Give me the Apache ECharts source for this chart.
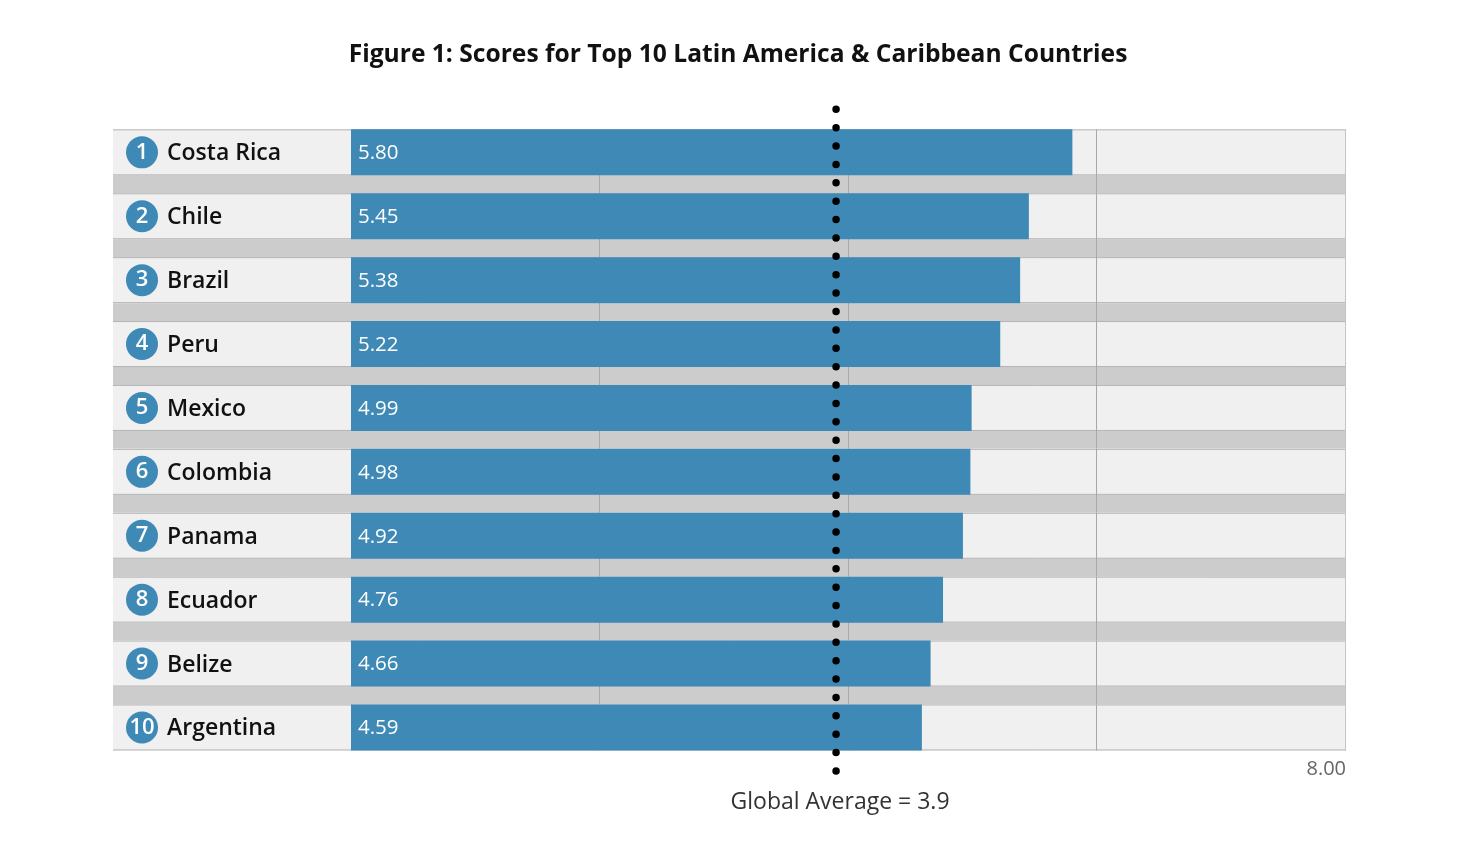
<!DOCTYPE html>
<html>
<head>
<meta charset="utf-8">
<title>Figure 1</title>
<script src="https://cdn.jsdelivr.net/npm/echarts@6/dist/echarts.min.js"></script>
<style>
  html, body { margin: 0; padding: 0; background: #fff; }
  #main { width: 1476px; height: 860px; }
</style>
</head>
<body>
<div id="main"></div>
<script>
// data
var countries = ['Costa Rica', 'Chile', 'Brazil', 'Peru', 'Mexico', 'Colombia', 'Panama', 'Ecuador', 'Belize', 'Argentina']
var scores = [5.80, 5.45, 5.38, 5.22, 4.99, 4.98, 4.92, 4.76, 4.66, 4.59]
var gridTicks = [2, 4, 6, 8]
var axisMaxLabel = [8]
var globalAverage = 3.9

var FONT = '"Open Sans", Lato, sans-serif'
var BLUE = '#3e89b6'
var X_MIN = -1.9136 // room on the left for the country names
var X_MAX = 8
var ROW_H = 46

var chart = echarts.init(document.getElementById('main'))

// row panels, grey gaps between them and the vertical grid lines
function renderRows(params, api) {
  var i = params.dataIndex
  var c = api.coord([X_MIN, i])
  var r = api.coord([X_MAX, i])
  var band = api.size([0, 1])[1]
  var top = c[1] - ROW_H / 2
  var bot = c[1] + ROW_H / 2
  var last = i === countries.length - 1
  var gapBot = last ? bot : c[1] + band - ROW_H / 2
  var kids = []
  kids.push({ type: 'rect', shape: { x: c[0], y: top, width: r[0] - c[0], height: ROW_H }, style: { fill: '#f0f0f0' } })
  if (!last) {
    kids.push({ type: 'rect', shape: { x: c[0], y: bot, width: r[0] - c[0], height: gapBot - bot }, style: { fill: '#cccccc' } })
  }
  kids.push({ type: 'line', shape: { x1: c[0], y1: top + 0.5, x2: r[0], y2: top + 0.5 }, style: { stroke: '#b4b4b4', lineWidth: 1 } })
  kids.push({ type: 'line', shape: { x1: c[0], y1: bot - 0.5, x2: r[0], y2: bot - 0.5 }, style: { stroke: '#b4b4b4', lineWidth: 1 } })
  gridTicks.forEach(function (t) {
    var p = api.coord([t, i])
    var x = Math.round(p[0]) - 0.5
    kids.push({ type: 'line', shape: { x1: x, y1: top, x2: x, y2: gapBot }, style: { stroke: t === X_MAX ? '#c4c4c4' : '#a8a8a8', lineWidth: 1 } })
  })
  return { type: 'group', children: kids }
}

var option = {
  backgroundColor: '#fff',
  animation: false,
  title: {
    text: 'Figure 1: Scores for Top 10 Latin America & Caribbean Countries',
    left: 'center',
    top: 37,
    textStyle: { fontFamily: FONT, fontSize: 24.6, fontWeight: 'bold', color: '#111' }
  },
  grid: [
    { left: 113, right: 130, top: 120.4, bottom: 100.6 },
    { left: 113, right: 130, top: 109, bottom: 89 }
  ],
  xAxis: [
    {
      gridIndex: 0, type: 'value', min: X_MIN, max: X_MAX,
      axisLine: { show: false }, axisTick: { show: false }, splitLine: { show: false },
      axisLabel: {
        customValues: axisMaxLabel,
        formatter: function (v) { return v.toFixed(2) },
        align: 'right', margin: 0,
        fontFamily: FONT, fontSize: 20, color: '#666'
      }
    },
    { gridIndex: 1, type: 'value', min: X_MIN, max: X_MAX, show: false }
  ],
  yAxis: [
    {
      gridIndex: 0, type: 'category', data: countries, inverse: true, z: 5,
      axisLine: { show: false, onZero: false }, axisTick: { show: false }, splitLine: { show: false },
      axisLabel: {
        inside: true, margin: 13,
        formatter: function (v, i) { return '{b|' + (i + 1) + '}{n|' + v + '}' },
        rich: {
          b: {
            width: 32, height: 32, borderRadius: 16, backgroundColor: BLUE,
            color: '#fff', align: 'center', fontFamily: FONT, fontSize: 22, fontWeight: 600, lineHeight: 32
          },
          n: { padding: [3, 0, 0, 9], color: '#111', fontFamily: FONT, fontSize: 23, fontWeight: 600 }
        }
      }
    },
    { gridIndex: 1, type: 'value', min: 0, max: 1, show: false }
  ],
  series: [
    {
      type: 'custom', xAxisIndex: 0, yAxisIndex: 0, z: 1, silent: true,
      renderItem: renderRows,
      data: countries.map(function (c, i) { return [X_MAX, i] }),
      encode: { x: 0, y: 1 }
    },
    {
      type: 'bar', xAxisIndex: 0, yAxisIndex: 0, z: 3,
      data: scores, barWidth: ROW_H,
      itemStyle: { color: BLUE },
      label: {
        show: true, position: 'insideLeft', distance: 7, offset: [0, 1],
        formatter: function (p) { return p.value.toFixed(2) },
        color: '#fff', fontFamily: FONT, fontSize: 20.5
      }
    },
    {
      type: 'line', xAxisIndex: 1, yAxisIndex: 1, z: 6, clip: false,
      symbol: 'circle', symbolSize: 0.1, showSymbol: true,
      lineStyle: { color: '#000', width: 7.5, type: [0, 18.38], cap: 'round' },
      itemStyle: { color: 'transparent' },
      data: [
        {
          value: [globalAverage, 0],
          label: {
            show: true, position: 'bottom', distance: 20, offset: [4, 0],
            formatter: 'Global Average = ' + globalAverage,
            fontFamily: FONT, fontSize: 23, color: '#333'
          }
        },
        [globalAverage, 1]
      ]
    }
  ]
}

chart.setOption(option)
</script>
</body>
</html>
